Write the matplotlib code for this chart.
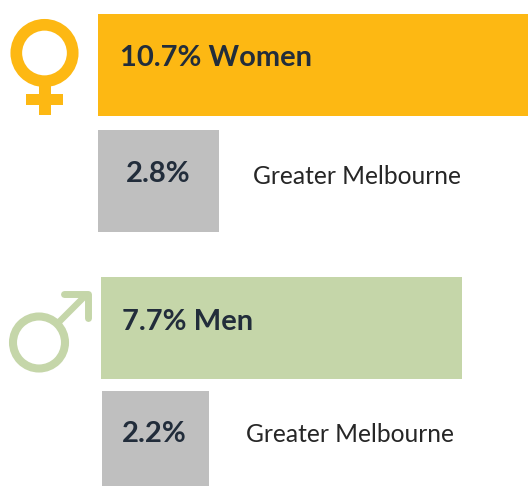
import matplotlib
matplotlib.use('Agg')
import matplotlib.pyplot as plt
from matplotlib.patches import Circle, Rectangle

# values as printed, bar lengths (not to scale in the original)
main_labels = ['10.7% Women', '7.7% Men']
main_lengths = [430, 361]
main_colors = ['#FDB813', '#C5D6A9']
sub_labels = ['2.8%', '2.2%']
sub_lengths = [121, 107]
region_name = 'Greater Melbourne'

dark = '#222D3B'
grey = '#BFBFBF'

plt.rcParams['font.family'] = ['Lato', 'DejaVu Sans']

fig = plt.figure(figsize=(5.28, 4.86), dpi=100)
ax = fig.add_axes([0, 0, 1, 1])
ax.set_xlim(0, 528)
ax.set_ylim(486, 0)
ax.axis('off')

# bars
ax.barh(65, main_lengths[0], height=102, left=98, color=main_colors[0])
ax.barh(181, sub_lengths[0], height=102, left=98, color=grey)
ax.barh(328, main_lengths[1], height=102, left=101, color=main_colors[1])
ax.barh(438.5, sub_lengths[1], height=95, left=102, color=grey)

# texts
ax.text(120, 58.5, main_labels[0], fontsize=21, fontweight='bold', color=dark, va='center')
ax.text(158.5, 174, sub_labels[0], fontsize=21, fontweight='bold', color=dark, va='center', ha='center')
ax.text(253, 176, region_name, fontsize=17.7, color='#262626', va='center')
ax.text(122, 321.5, main_labels[1], fontsize=21, fontweight='bold', color=dark, va='center')
ax.text(154.5, 434, sub_labels[1], fontsize=21, fontweight='bold', color=dark, va='center', ha='center')
ax.text(246, 434, region_name, fontsize=17.7, color='#262626', va='center')

# female symbol
c = main_colors[0]
ax.add_patch(Circle((44.5, 53), 28.2, fc='none', ec=c, lw=8.4))
ax.add_patch(Rectangle((38.5, 84), 12, 31.5, fc=c, ec='none'))
ax.add_patch(Rectangle((26, 94), 37, 11.5, fc=c, ec='none'))

# male symbol
c = main_colors[1]
ax.add_patch(Circle((39, 342.5), 26, fc='none', ec=c, lw=5.8))
ax.plot([59, 87], [322, 294], color=c, lw=4.6, solid_capstyle='butt')
ax.plot([64, 88, 88], [294, 294, 318], color=c, lw=5, solid_capstyle='round', solid_joinstyle='round')

fig.savefig('out.png', dpi=100)
